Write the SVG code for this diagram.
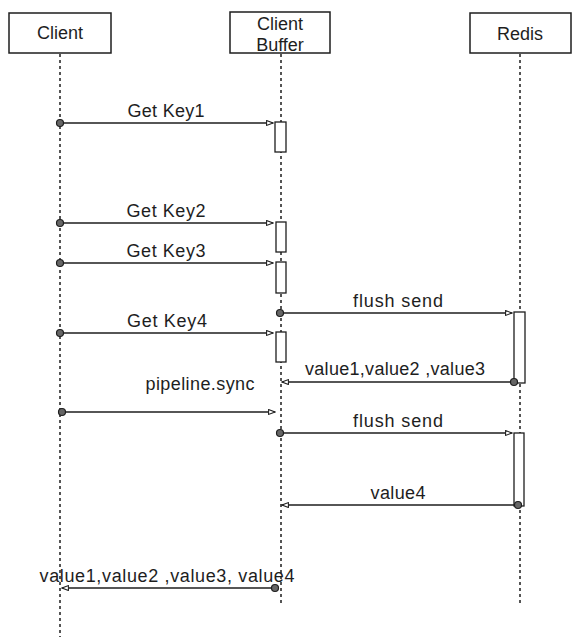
<svg xmlns="http://www.w3.org/2000/svg" width="581" height="643" viewBox="0 0 581 643">
<style>
text{font-family:"Liberation Sans",Arial,sans-serif;font-size:18px;fill:#1e1e1e;text-anchor:middle}
.box{fill:#fff;stroke:#1e1e1e;stroke-width:1.5}
.life{stroke:#1e1e1e;stroke-width:1.5;stroke-dasharray:3 3;fill:none}
.act{fill:#fff;stroke:#1e1e1e;stroke-width:1.3}
.msg{stroke:#1e1e1e;stroke-width:1.5;fill:none;marker-end:url(#ah)}
.dot{fill:#666;stroke:#1e1e1e;stroke-width:1.2}
</style>
<defs>
<marker id="ah" viewBox="0 0 10 8" refX="9" refY="4" markerWidth="8" markerHeight="6.4" markerUnits="userSpaceOnUse" orient="auto">
<path d="M1,1 L9,4 L1,7 z" fill="#fff" stroke="#1e1e1e" stroke-width="1.3"/>
</marker>
</defs>
<rect width="581" height="643" fill="#fff"/>
<g id="client">
<line class="life" x1="60" y1="54" x2="60" y2="637"/>
<rect class="box" x="9" y="13" width="102" height="40"/>
<text x="60" y="39">Client</text>
</g>
<g id="buffer">
<line class="life" x1="281" y1="54" x2="281" y2="606"/>
<rect class="box" x="230" y="12" width="100" height="41"/>
<text x="280" y="30">Client</text>
<text x="280" y="51">Buffer</text>
<rect class="act" x="275" y="122" width="11" height="30"/>
<rect class="act" x="276" y="222" width="10" height="30"/>
<rect class="act" x="276" y="262" width="10" height="31"/>
<rect class="act" x="276" y="332" width="10" height="30"/>
</g>
<g id="redis">
<line class="life" x1="520" y1="54" x2="520" y2="606"/>
<rect class="box" x="470" y="13" width="101" height="40"/>
<text x="520" y="40">Redis</text>
<rect class="act" x="514" y="312" width="11" height="71"/>
<rect class="act" x="514" y="433" width="10" height="73"/>
</g>
<g id="connectors">
<line class="msg" x1="61" y1="123" x2="273" y2="123"/>
<circle class="dot" cx="60" cy="123" r="3.5"/>
<text x="166" y="117" textLength="77">Get Key1</text>
<line class="msg" x1="61" y1="223" x2="273" y2="223"/>
<circle class="dot" cx="60" cy="223" r="3.5"/>
<text x="166" y="217" textLength="79">Get Key2</text>
<line class="msg" x1="61" y1="263" x2="273" y2="263"/>
<circle class="dot" cx="60" cy="263" r="3.5"/>
<text x="166" y="257" textLength="79">Get Key3</text>
<line class="msg" x1="281" y1="313" x2="512" y2="313"/>
<circle class="dot" cx="280" cy="313" r="3.5"/>
<text x="398" y="307" textLength="90">flush send</text>
<line class="msg" x1="61" y1="333" x2="273" y2="333"/>
<circle class="dot" cx="60" cy="333" r="3.5"/>
<text x="167" y="327" textLength="80">Get Key4</text>
<line class="msg" x1="513" y1="382" x2="282" y2="382"/>
<circle class="dot" cx="514" cy="382" r="3.5"/>
<text x="395" y="375" textLength="180">value1,value2 ,value3</text>
<text x="200" y="390" textLength="109">pipeline.sync</text>
<line class="msg" x1="62" y1="412" x2="275" y2="412"/>
<circle class="dot" cx="62" cy="412" r="3.5"/>
<line class="msg" x1="281" y1="433" x2="512" y2="433"/>
<circle class="dot" cx="280" cy="433" r="3.5"/>
<text x="398" y="427" textLength="90">flush send</text>
<line class="msg" x1="518" y1="505" x2="282" y2="505"/>
<circle class="dot" cx="518" cy="505" r="3.5"/>
<text x="398" y="499" textLength="55">value4</text>
<line class="msg" x1="275" y1="588" x2="62" y2="588"/>
<circle class="dot" cx="275" cy="588" r="3.5"/>
<text x="167" y="582" textLength="255">value1,value2 ,value3,  value4</text>
</g>
</svg>
